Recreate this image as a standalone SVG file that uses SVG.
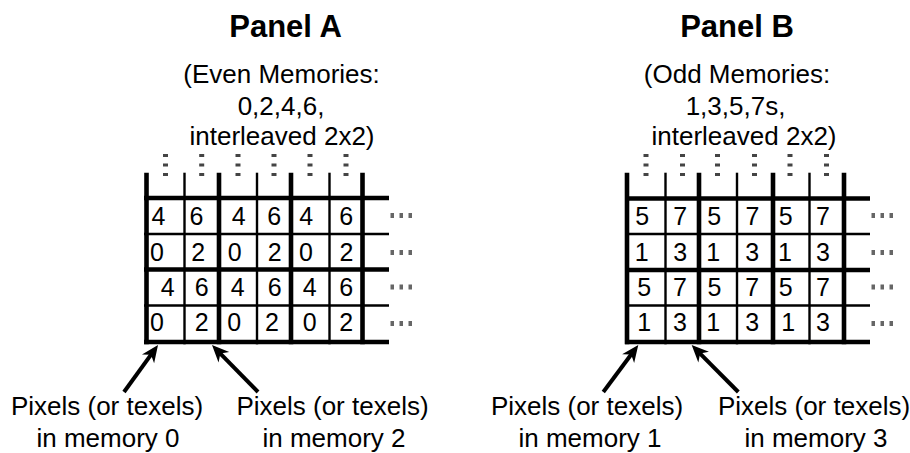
<svg xmlns="http://www.w3.org/2000/svg" width="910" height="453" viewBox="0 0 910 453">
  <style>
    text { font-family: "Liberation Sans", Arial, sans-serif; fill: #000; }
    .title { font-size: 31px; font-weight: bold; text-anchor: middle; }
    .sub { font-size: 26px; text-anchor: middle; }
    .label { font-size: 26px; text-anchor: middle; }
    .cell { font-size: 25px; text-anchor: middle; }
    .thick { stroke: #000; stroke-width: 4.6; fill: none; }
    .thin { stroke: #000; stroke-width: 2.4; fill: none; }
    .vdots { stroke: #444; stroke-width: 5; stroke-dasharray: 3 6.5; fill: none; }
    .hdots { stroke: #666; stroke-width: 5; stroke-dasharray: 3.5 5.5; fill: none; }
    .arrow { stroke: #000; stroke-width: 4; fill: none; marker-end: url(#head); }
  </style>
  <defs>
    <marker id="head" markerUnits="userSpaceOnUse" markerWidth="40" markerHeight="40" refX="0" refY="0" orient="auto" overflow="visible">
      <path d="M6,0 L-11,-7.5 L-6,0 L-11,7.5 Z" fill="#000"/>
    </marker>
  </defs>

  <rect width="910" height="453" fill="#fff"/>

  <!-- Panel A: even memories -->
  <g id="panel-a-title">
    <text class="title" x="285.5" y="37">Panel A</text>
    <text class="sub" x="281.5" y="83">(Even Memories:</text>
    <text class="sub" x="281" y="114.5">0,2,4,6,</text>
    <text class="sub" x="282" y="145">interleaved 2x2)</text>
  </g>

  <g id="panel-a-grid">
    <!-- continuation marks above each column -->
    <g class="vdots">
      <line x1="165.5" y1="154" x2="165.5" y2="177"/>
      <line x1="201.7" y1="154" x2="201.7" y2="177"/>
      <line x1="238" y1="154" x2="238" y2="177"/>
      <line x1="274" y1="154" x2="274" y2="177"/>
      <line x1="310" y1="154" x2="310" y2="177"/>
      <line x1="346" y1="154" x2="346" y2="177"/>
    </g>
    <!-- rows -->
    <line class="thick" x1="144" y1="198" x2="389" y2="198"/>
    <line class="thin" x1="144" y1="234" x2="389" y2="234"/>
    <line class="thick" x1="144" y1="269.5" x2="389" y2="269.5"/>
    <line class="thin" x1="144" y1="305.5" x2="389" y2="305.5"/>
    <line class="thick" x1="144" y1="342" x2="389" y2="342"/>
    <!-- columns -->
    <line class="thick" x1="146.5" y1="172.7" x2="146.5" y2="344.3"/>
    <line class="thin" x1="184.5" y1="172.7" x2="184.5" y2="344.3"/>
    <line class="thick" x1="219" y1="172.7" x2="219" y2="344.3"/>
    <line class="thin" x1="257" y1="172.7" x2="257" y2="344.3"/>
    <line class="thick" x1="291" y1="172.7" x2="291" y2="344.3"/>
    <line class="thin" x1="329.5" y1="172.7" x2="329.5" y2="344.3"/>
    <line class="thick" x1="362.5" y1="172.7" x2="362.5" y2="344.3"/>
    <!-- continuation marks to the right -->
    <g class="hdots">
      <line x1="390.5" y1="215.5" x2="413" y2="215.5"/>
      <line x1="390.5" y1="252.5" x2="413" y2="252.5"/>
      <line x1="390.5" y1="287" x2="413" y2="287"/>
      <line x1="390.5" y1="323.5" x2="413" y2="323.5"/>
    </g>
    <!-- memory numbers -->
    <g class="cell">
      <text x="158.5" y="224.5">4</text><text x="196.5" y="224.5">6</text><text x="238.8" y="224.5">4</text><text x="274.2" y="224.5">6</text><text x="306.3" y="224.5">4</text><text x="346.3" y="224.5">6</text>
      <text x="157" y="260.5">0</text><text x="198.3" y="260.5">2</text><text x="234.8" y="260.5">0</text><text x="274.8" y="260.5">2</text><text x="306" y="260.5">0</text><text x="346.5" y="260.5">2</text>
      <text x="167.8" y="296">4</text><text x="201.7" y="296">6</text><text x="237.8" y="296">4</text><text x="274.8" y="296">6</text><text x="309.7" y="296">4</text><text x="346.2" y="296">6</text>
      <text x="157" y="331">0</text><text x="201.7" y="331">2</text><text x="234.2" y="331">0</text><text x="272" y="331">2</text><text x="309.7" y="331">0</text><text x="346.2" y="331">2</text>
    </g>
  </g>

  <g id="label-mem0">
    <text class="label" x="107" y="415">Pixels (or texels)</text>
    <text class="label" x="108" y="447">in memory 0</text>
  </g>
  <g id="label-mem2">
    <text class="label" x="332.5" y="415">Pixels (or texels)</text>
    <text class="label" x="334" y="447">in memory 2</text>
  </g>

  <!-- Panel B: odd memories -->
  <g id="panel-b-title">
    <text class="title" x="737" y="37">Panel B</text>
    <text class="sub" x="737" y="83">(Odd Memories:</text>
    <text class="sub" x="735.5" y="114.5">1,3,5,7s,</text>
    <text class="sub" x="744" y="145">interleaved 2x2)</text>
  </g>

  <g id="panel-b-grid">
    <g class="vdots">
      <line x1="646" y1="154" x2="646" y2="177"/>
      <line x1="682.5" y1="154" x2="682.5" y2="177"/>
      <line x1="717.5" y1="154" x2="717.5" y2="177"/>
      <line x1="754.5" y1="154" x2="754.5" y2="177"/>
      <line x1="790" y1="154" x2="790" y2="177"/>
      <line x1="826.5" y1="154" x2="826.5" y2="177"/>
    </g>
    <line class="thick" x1="625" y1="198.5" x2="870" y2="198.5"/>
    <line class="thin" x1="625" y1="234" x2="870" y2="234"/>
    <line class="thick" x1="625" y1="270" x2="870" y2="270"/>
    <line class="thin" x1="625" y1="305.5" x2="870" y2="305.5"/>
    <line class="thick" x1="625" y1="342" x2="870" y2="342"/>
    <line class="thick" x1="627" y1="172.7" x2="627" y2="344.3"/>
    <line class="thin" x1="665.5" y1="172.7" x2="665.5" y2="344.3"/>
    <line class="thick" x1="699" y1="172.7" x2="699" y2="344.3"/>
    <line class="thin" x1="737" y1="172.7" x2="737" y2="344.3"/>
    <line class="thick" x1="773" y1="172.7" x2="773" y2="344.3"/>
    <line class="thin" x1="809.5" y1="172.7" x2="809.5" y2="344.3"/>
    <line class="thick" x1="844" y1="172.7" x2="844" y2="344.3"/>
    <g class="hdots">
      <line x1="871.5" y1="215.5" x2="894" y2="215.5"/>
      <line x1="871.5" y1="252.5" x2="894" y2="252.5"/>
      <line x1="871.5" y1="287" x2="894" y2="287"/>
      <line x1="871.5" y1="323.5" x2="894" y2="323.5"/>
    </g>
    <g class="cell">
      <text x="642.2" y="224.5">5</text><text x="680.3" y="224.5">7</text><text x="714.2" y="224.5">5</text><text x="752.5" y="224.5">7</text><text x="785.8" y="224.5">5</text><text x="823" y="224.5">7</text>
      <text x="641.7" y="260.5">1</text><text x="680.3" y="260.5">3</text><text x="713.3" y="260.5">1</text><text x="752.2" y="260.5">3</text><text x="785" y="260.5">1</text><text x="823" y="260.5">3</text>
      <text x="644.2" y="296">5</text><text x="680" y="296">7</text><text x="714.5" y="296">5</text><text x="752.2" y="296">7</text><text x="785.8" y="296">5</text><text x="823" y="296">7</text>
      <text x="644.3" y="331">1</text><text x="680" y="331">3</text><text x="713.3" y="331">1</text><text x="752.2" y="331">3</text><text x="788.3" y="331">1</text><text x="823" y="331">3</text>
    </g>
  </g>

  <g id="label-mem1">
    <text class="label" x="587" y="415">Pixels (or texels)</text>
    <text class="label" x="590" y="447">in memory 1</text>
  </g>
  <g id="label-mem3">
    <text class="label" x="814" y="415">Pixels (or texels)</text>
    <text class="label" x="816" y="447">in memory 3</text>
  </g>

  <!-- pointer arrows from labels to grid corners -->
  <g id="connectors">
    <line class="arrow" x1="124" y1="392" x2="154.5" y2="349.9"/>
    <line class="arrow" x1="258" y1="392" x2="216.2" y2="349.3"/>
    <line class="arrow" x1="603.3" y1="392" x2="634.7" y2="349.8"/>
    <line class="arrow" x1="738.3" y1="392" x2="695.9" y2="349.3"/>
  </g>
</svg>
